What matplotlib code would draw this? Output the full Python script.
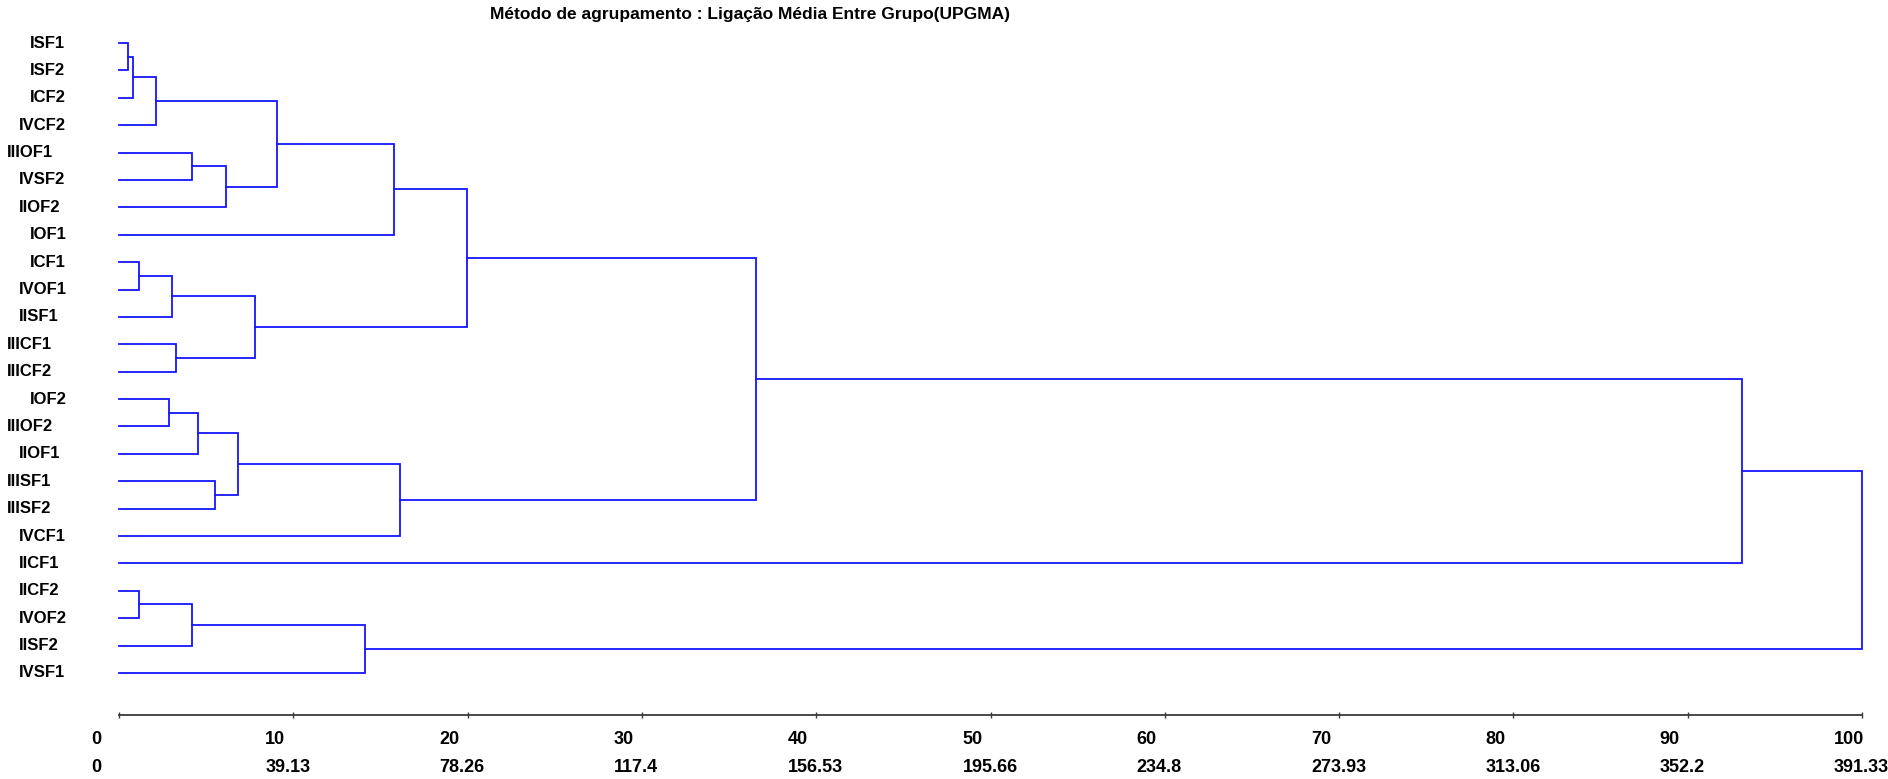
import matplotlib
matplotlib.use('Agg')
import matplotlib.pyplot as plt
from matplotlib.transforms import ScaledTranslation
import numpy as np

# leaves, top to bottom
leaf_labels = ['ISF1', 'ISF2', 'ICF2', 'IVCF2', 'IIIOF1', 'IVSF2', 'IIOF2', 'IOF1',
               'ICF1', 'IVOF1', 'IISF1', 'IIICF1', 'IIICF2', 'IOF2', 'IIIOF2', 'IIOF1',
               'IIISF1', 'IIISF2', 'IVCF1', 'IICF1', 'IICF2', 'IVOF2', 'IISF2', 'IVSF1']

# merges: node 24 + k joins merge_a[k] and merge_b[k] at distance merge_h[k] (0-100 scale)
merge_a = [0, 24, 25, 4, 27, 26, 29, 8, 31, 11, 32, 30, 13, 36, 16, 37, 39, 35, 41, 20, 43, 44, 42]
merge_b = [1, 2, 3, 5, 6, 28, 7, 9, 10, 12, 33, 34, 14, 15, 17, 38, 18, 40, 19, 21, 22, 23, 45]
merge_h = [0.53, 0.82, 2.12, 4.19, 6.14, 9.05, 15.80, 1.15, 3.02, 3.27, 7.80, 19.94,
           2.85, 4.53, 5.51, 6.83, 16.12, 36.55, 93.10, 1.17, 4.19, 14.13, 100.0]

scale_top = [0, 10, 20, 30, 40, 50, 60, 70, 80, 90, 100]
scale_bottom = ['0', '39.13', '78.26', '117.4', '156.53', '195.66', '234.8', '273.93',
                '313.06', '352.2', '391.33']

title = 'Método de agrupamento : Ligação Média Entre Grupo(UPGMA)'

line_col = '#1515ff'
fam = ['Liberation Sans', 'DejaVu Sans']

fig = plt.figure(figsize=(18.88, 7.79), dpi=100)
ax = fig.add_axes([119 / 1888, (779 - 715) / 779, (1862 - 119) / 1888, (715 - 30) / 779])

n = len(leaf_labels)
xpos = {i: 0.0 for i in range(n)}
ypos = {i: float(i) for i in range(n)}
for k, (a, b, h) in enumerate(zip(merge_a, merge_b, merge_h)):
    node = n + k
    ax.plot([xpos[a], h, h, xpos[b]], [ypos[a], ypos[a], ypos[b], ypos[b]],
            color=line_col, lw=1.3, clip_on=False, solid_joinstyle='miter')
    xpos[node] = h
    ypos[node] = (ypos[a] + ypos[b]) / 2

ax.set_xlim(0, 100)
ax.set_ylim((715 - 43) / 27.39, (30 - 43) / 27.39)

for s in ['top', 'left', 'right']:
    ax.spines[s].set_visible(False)
ax.spines['bottom'].set_color('#3a3a3a')
ax.spines['bottom'].set_linewidth(1.3)
ax.set_yticks([])
ax.set_xticks(scale_top)
ax.set_xticklabels([])
ax.tick_params(axis='x', direction='inout', length=5, width=1.0, color='#3a3a3a')

# leaf labels
for i, lab in enumerate(leaf_labels):
    dx = (76 - 11.5 * len(lab) - 119) / 100
    ax.text(0, i, lab, ha='left', va='center', fontsize=12, fontweight='bold', family=fam,
            transform=ax.transData + ScaledTranslation(dx, 0, fig.dpi_scale_trans))

# two rows of scale labels
for v, lab2 in zip(scale_top, scale_bottom):
    base = ax.get_xaxis_transform()
    ax.text(v, 0, str(v), ha='left', va='center', fontsize=13, fontweight='bold', family=fam,
            transform=base + ScaledTranslation(-0.28, -0.25, fig.dpi_scale_trans))
    ax.text(v, 0, lab2, ha='left', va='center', fontsize=13, fontweight='bold', family=fam,
            transform=base + ScaledTranslation(-0.28, -0.53, fig.dpi_scale_trans))

fig.text(750 / 1888, 1 - 15 / 779, title, ha='center', va='center', fontsize=12.5,
         fontweight='bold', family=fam)

fig.savefig('out.png', dpi=100, facecolor='white')
